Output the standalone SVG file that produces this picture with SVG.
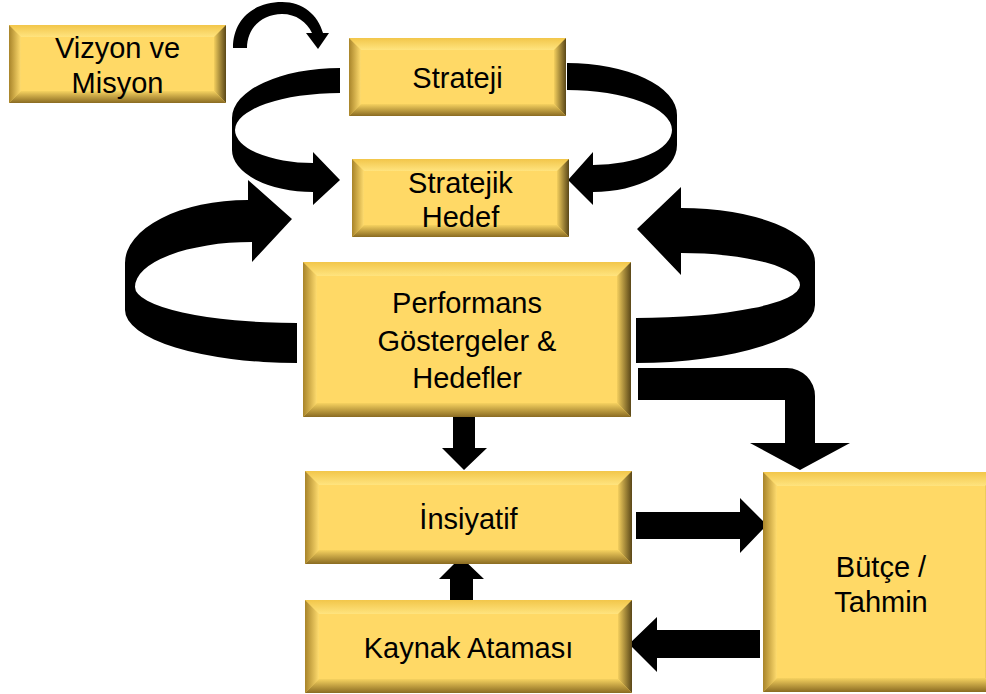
<svg xmlns="http://www.w3.org/2000/svg" width="986" height="694" viewBox="0 0 986 694">
<defs>
<linearGradient id="gTop" x1="0" y1="0" x2="0" y2="1"><stop offset="0" stop-color="#F2C64A"/><stop offset="1" stop-color="#FFE47F"/></linearGradient>
<linearGradient id="gLeft" x1="0" y1="0" x2="1" y2="0"><stop offset="0" stop-color="#A8842A"/><stop offset="1" stop-color="#FFDC6E"/></linearGradient>
<linearGradient id="gRight" x1="0" y1="0" x2="1" y2="0"><stop offset="0" stop-color="#F4CF5E"/><stop offset="1" stop-color="#5A4718"/></linearGradient>
<linearGradient id="gBottom" x1="0" y1="0" x2="0" y2="1"><stop offset="0" stop-color="#F6D260"/><stop offset="1" stop-color="#8A6B22"/></linearGradient>
</defs>
<style>
.face{fill:#FFD966}
.bt{fill:url(#gTop)}
.bl{fill:url(#gLeft)}
.br{fill:url(#gRight)}
.bb{fill:url(#gBottom)}
.lbl{font-family:"Liberation Sans",Arial,sans-serif;font-size:29px;fill:#000;text-anchor:middle}
.arr{fill:#000}
</style>
<rect width="986" height="694" fill="#FFFFFF"/>
<g id="connectors">
<path class="arr" d="M233,48 C233,18 255,2 282,2 C303,2 318,15 323,33 L329,33 L318,49 L306,33 L312,33 C307,22 296,14 282,14 C262,14 247,28 247,48 Z"/>
<path class="arr" d="M340,68 A108,50 0 0 0 232,118 L232,150 A81,42 0 0 0 313,192 L313,205 L340,180 L313,152 L313,163 A78,33 0 0 1 235,130 A105,37 0 0 1 340,93 Z"/>
<path class="arr" d="M567,63 A110,52 0 0 1 677,115 L677,145 A84,47 0 0 1 593,192 L593,205 L568,180 L593,152 L593,165 A79,35 0 0 0 672,130 A105,40 0 0 0 567,90 Z"/>
<path class="arr" d="M297,363 A172,53 0 0 1 125,310 L125,263 A123,63 0 0 1 248,200 L248,180 L292,219 L252,262 L252,242 A117,45 0 0 0 135,287 A162,36 0 0 0 297,323 Z"/>
<path class="arr" d="M636,363 A179,58 0 0 0 815,305 L815,262 A134,54 0 0 0 681,208 L681,187 L637,229 L681,275 L681,253 A119,32 0 0 1 800,285 A164,33 0 0 1 636,318 Z"/>
<path class="arr" d="M638,368 H787 A28,28 0 0 1 815,396 V443 H850 L800,470 L750,443 H785 V400 H638 Z"/>
<path class="arr" d="M453,417 H475 V448 H487 L464,470 L442,448 H453 Z"/>
<path class="arr" d="M450,607 V579 H439 L461,557 L484,579 H473 V607 Z"/>
<path class="arr" d="M636,512 H740 V498 L767,525 L740,553 V539 H636 Z"/>
<path class="arr" d="M760,630 V658 H657 V672 L629,644 L657,617 V630 Z"/>
</g>
<g id="vizyon">
<rect class="face" x="9" y="25" width="217" height="78"/>
<polygon class="bt" points="9,25 226,25 214,37 21,37"/>
<polygon class="bl" points="9,25 21,37 21,91 9,103"/>
<polygon class="br" points="226,25 226,103 214,91 214,37"/>
<polygon class="bb" points="9,103 226,103 214,91 21,91"/>
<text class="lbl" x="117.5" y="58">Vizyon ve</text>
<text class="lbl" x="117.5" y="93">Misyon</text>
</g>
<g id="strateji">
<rect class="face" x="349" y="38" width="217" height="78"/>
<polygon class="bt" points="349,38 566,38 554,50 361,50"/>
<polygon class="bl" points="349,38 361,50 361,104 349,116"/>
<polygon class="br" points="566,38 566,116 554,104 554,50"/>
<polygon class="bb" points="349,116 566,116 554,104 361,104"/>
<text class="lbl" x="457.5" y="88">Strateji</text>
</g>
<g id="stratejik-hedef">
<rect class="face" x="352" y="159" width="217" height="78"/>
<polygon class="bt" points="352,159 569,159 557,171 364,171"/>
<polygon class="bl" points="352,159 364,171 364,225 352,237"/>
<polygon class="br" points="569,159 569,237 557,225 557,171"/>
<polygon class="bb" points="352,237 569,237 557,225 364,225"/>
<text class="lbl" x="460.5" y="193">Stratejik</text>
<text class="lbl" x="460.5" y="227">Hedef</text>
</g>
<g id="performans">
<rect class="face" x="303" y="262" width="328" height="155"/>
<polygon class="bt" points="303,262 631,262 617,276 317,276"/>
<polygon class="bl" points="303,262 317,276 317,403 303,417"/>
<polygon class="br" points="631,262 631,417 617,403 617,276"/>
<polygon class="bb" points="303,417 631,417 617,403 317,403"/>
<text class="lbl" x="467" y="313">Performans</text>
<text class="lbl" x="467" y="351">Göstergeler &amp;</text>
<text class="lbl" x="467" y="388">Hedefler</text>
</g>
<g id="insiyatif">
<rect class="face" x="305" y="471" width="327" height="93"/>
<polygon class="bt" points="305,471 632,471 618,485 319,485"/>
<polygon class="bl" points="305,471 319,485 319,550 305,564"/>
<polygon class="br" points="632,471 632,564 618,550 618,485"/>
<polygon class="bb" points="305,564 632,564 618,550 319,550"/>
<text class="lbl" x="468.5" y="529">İnsiyatif</text>
</g>
<g id="kaynak">
<rect class="face" x="305" y="600" width="327" height="93"/>
<polygon class="bt" points="305,600 632,600 618,614 319,614"/>
<polygon class="bl" points="305,600 319,614 319,679 305,693"/>
<polygon class="br" points="632,600 632,693 618,679 618,614"/>
<polygon class="bb" points="305,693 632,693 618,679 319,679"/>
<text class="lbl" x="468.5" y="658">Kaynak Ataması</text>
</g>
<g id="butce">
<rect class="face" x="763" y="472" width="236" height="220"/>
<polygon class="bt" points="763,472 999,472 985,486 777,486"/>
<polygon class="bl" points="763,472 777,486 777,678 763,692"/>
<polygon class="br" points="999,472 999,692 985,678 985,486"/>
<polygon class="bb" points="763,692 999,692 985,678 777,678"/>
<text class="lbl" x="881" y="577">Bütçe /</text>
<text class="lbl" x="881" y="612">Tahmin</text>
</g>
</svg>
